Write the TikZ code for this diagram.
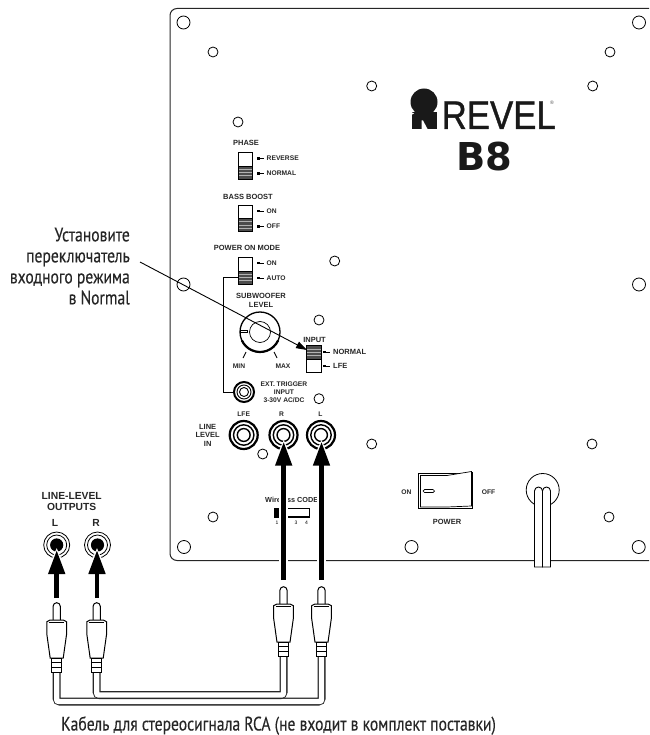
\documentclass[tikz,border=0pt]{standalone}
\usepackage{fontspec}
\setmainfont{Liberation Sans}
\newfontfamily\rufont[FakeStretch=0.80,FakeBold=0.25]{PT Sans}
\newfontfamily\logofont[FakeStretch=0.87,FakeBold=0.9]{Liberation Sans}
\newfontfamily\modelfont{DejaVu Sans}
\usetikzlibrary{arrows.meta}

\tikzset{
    hole/.style={shape=circle,draw=black,fill=white,line width=0.8pt,inner sep=0,minimum size=10pt},
    bighole/.style={hole,minimum size=13pt},
    titlelabel/.style={inner sep=0,align=center,font=\bfseries\fontsize{7.5}{8.5}\selectfont,text=black!85},
    optlabel/.style={inner sep=0,align=center,font=\bfseries\fontsize{6.7}{8}\selectfont,text=black!85},
    swbody/.style={shape=rectangle,draw=black,fill=white,line width=0.8pt,inner sep=0,minimum width=14.5pt,minimum height=26.5pt},
    bigarrow/.style={-{Triangle[width=16pt,length=24pt]},line width=4.6pt,draw=black},
    arrowhalo/.style={-{Triangle[width=22pt,length=29pt]},line width=8.5pt,draw=white,shorten >=-3pt},
    cablerun/.style={line width=8pt,draw=black!85,rounded corners=3pt},
    cablefill/.style={line width=5.4pt,draw=white,rounded corners=2pt},
    captext/.style={inner sep=0,font=\rufont\fontsize{19.5}{21}\selectfont,text=black!85}
}

% dark half of a slide switch, #1 x left, #2 y top
\newcommand{\swdark}[2]{
    \fill[black!70] (#1,#2) rectangle ++(14.5,13.2);
    \draw[black!30,line width=0.5pt] (#1,#2+3.2) -- ++(14.5,0) (#1,#2+6.4) -- ++(14.5,0) (#1,#2+9.6) -- ++(14.5,0);
    \draw[line width=0.8pt] (#1,#2) rectangle ++(14.5,13.2);
}
% tick and text beside a slide switch
\newcommand{\swlabel}[5][optlabel]{
    \fill (#3,#4-1.3) rectangle ++(3,2.6);
    \draw[line width=0.7pt] (#3+3,#4) -- ++(4,0);
    \node[#1,anchor=west] (#2) at (#3+10,#4) {#5};
}
% panel socket with rings
\newcommand{\bigjack}[3]{
    \node[shape=circle,draw=black,line width=2.2pt,inner sep=0,minimum size=28pt] (#1) at (#2,#3) {};
    \draw[line width=1.4pt] (#1) circle (10.2pt);
    \draw[line width=1.4pt] (#1) circle (6.4pt);
}
% socket on the source side, black centre
\newcommand{\outjack}[3]{
    \node[shape=circle,draw=black,line width=0.8pt,inner sep=0,minimum size=26pt] (#1) at (#2,#3) {};
    \draw[line width=0.8pt] (#1) circle (10pt);
    \fill (#1) circle (6.6pt);
}
% RCA plug, #1 x centre, #2 y of pin top
\newcommand{\rcaplug}[2]{
    \draw[line width=1pt,fill=white] (#1-3.6,#2+17.5) -- (#1-3.6,#2+3.6) arc (180:360:3.6) -- (#1+3.6,#2+17.5);
    \draw[line width=1pt,fill=white] (#1-9.8,#2+19) -- (#1-9.8,#2+32) -- (#1-6.5,#2+55.5) -- (#1+6.5,#2+55.5) -- (#1+9.8,#2+32) -- (#1+9.8,#2+19) -- (#1+7,#2+17.5) -- (#1-7,#2+17.5) -- cycle;
    \draw[line width=0.8pt] (#1-7.5,#2+19.5) -- (#1+7.5,#2+19.5);
    \draw[line width=1pt,fill=white] (#1-5,#2+55.5) rectangle (#1+5,#2+70);
    \draw[line width=1.5pt] (#1-5,#2+60) -- (#1+5,#2+60) (#1-5,#2+65) -- (#1+5,#2+65);
}

\begin{document}
\begin{tikzpicture}[x=1pt,y=-1pt]

    \useasboundingbox (0,0) rectangle (649,735);

    % panel
    \draw[line width=1pt,black!85,rounded corners=7pt] (649,8.5) -- (170,8.5) -- (170,560.5) -- (649,560.5);

    % screw holes
    \node[bighole] (h1) at (183.5,22.5) {};
    \node[bighole] (h2) at (639,22.5) {};
    \node[hole] (h3) at (213,52) {};
    \node[hole] (h4) at (610,52) {};
    \node[hole] (h5) at (371.7,86) {};
    \node[hole] (h6) at (592.7,86) {};
    \node[hole] (h7) at (238,122) {};
    \node[hole] (h8) at (334.7,261) {};
    \node[bighole] (h9) at (183.5,284.5) {};
    \node[bighole] (h10) at (639,284.5) {};
    \node[hole] (h11) at (319,320) {};
    \node[hole] (h12) at (319,398.7) {};
    \node[hole] (h13) at (262.7,454) {};
    \node[hole] (h14) at (371.7,444) {};
    \node[hole] (h15) at (592,444) {};
    \node[hole] (h16) at (609,517) {};
    \node[hole] (h17) at (213,517) {};
    \node[bighole] (h18) at (184,547) {};
    \node[bighole] (h19) at (411.5,547) {};
    \node[bighole] (h20) at (638.7,547) {};

    % logo
    \fill[black!90] (424,102) circle (13.5pt);
    \fill[black!90] (412,112) rectangle (437,129);
    \fill[white] (421.7,129.5) -- (427.8,129.5) -- (423,120.5) -- (421.7,120.5) -- cycle;
    \fill[white] (411,112) -- (414,113.5) -- (411,115) -- cycle;
    \node[inner sep=0,anchor=base west,font=\logofont\fontsize{40}{40}\selectfont,text=black!90] (revel) at (441.5,129) {REVEL};
    \node[inner sep=0,font=\fontsize{5}{5}\selectfont,text=black!70] (regmark) at (552,103) {®};
    \node[inner sep=0,font=\modelfont\bfseries\fontsize{38.4}{40}\selectfont,text=black!90] (model) at (484,157) {B8};

    % phase
    \node[titlelabel] (phase) at (246,142.7) {PHASE};
    \node[swbody] (phasesw) at (245.5,166) {};
    \swdark{238.2}{166}
    \swlabel{reverse}{256.5}{158.5}{REVERSE}
    \swlabel{normal}{256.5}{173.5}{NORMAL}

    % bass boost
    \node[titlelabel] (bass) at (248,197) {BASS BOOST};
    \node[swbody] (basssw) at (245.5,218.5) {};
    \swdark{238.2}{218.5}
    \swlabel{bon}{256.5}{211}{ON}
    \swlabel{boff}{256.5}{226.5}{OFF}

    % power on mode
    \node[titlelabel] (mode) at (247,247.7) {POWER ON MODE};
    \node[swbody] (modesw) at (245.5,271) {};
    \swdark{238.2}{271}
    \swlabel{mon}{256.5}{263}{ON}
    \swlabel{mauto}{256.5}{278}{AUTO}

    % level knob
    \node[titlelabel] (level) at (261,300.5) {SUBWOOFER\\LEVEL};
    \node[shape=circle,draw=black,line width=1.3pt,fill=white,inner sep=0,minimum size=40pt] (knob) at (260,332) {};
    \draw[line width=2.2pt] (knob.center) ++(25:20) arc (25:155:20);
    \draw[line width=0.7pt] (knob) circle (10.5pt);
    \draw[line width=0.7pt,fill=white] (240,330.5) rectangle (247.5,332.5);
    \draw[line width=0.9pt] (246,352) -- (243,358);
    \draw[line width=0.9pt] (274,352) -- (277,358);
    \node[optlabel] (min) at (239,366) {MIN};
    \node[optlabel] (max) at (283,366) {MAX};

    % input
    \node[titlelabel] (input) at (314.5,340) {INPUT};
    \node[swbody] (inputsw) at (314,359) {};
    \swdark{306.7}{345.7}
    \swlabel[titlelabel]{inormal}{323}{352}{NORMAL}
    \swlabel[titlelabel]{ilfe}{323}{366}{LFE}

    % trigger
    \node[shape=circle,draw=black,line width=2pt,inner sep=0,minimum size=20pt] (trigger) at (244,392) {};
    \draw[line width=0.9pt] (trigger) circle (7pt);
    \draw[line width=0.9pt] (trigger) circle (4.5pt);
    \node[optlabel] (trigtext) at (284,392.5) {EXT. TRIGGER\\INPUT\\3-30V AC/DC};
    \coordinate (modetap) at (238.2,277);
    \draw[line width=0.9pt] (modetap) -- (223,277) -- (223,392) -- (trigger);

    % line level sockets
    \node[titlelabel] (linein) at (207.7,435) {LINE\\LEVEL\\IN};
    \bigjack{jacklfe}{243.7}{435}
    \bigjack{jackr}{283.5}{435}
    \bigjack{jackl}{321}{435}
    \node[optlabel] (lfe) at (243.7,414) {LFE};
    \node[optlabel] (rr) at (281.5,414) {R};
    \node[optlabel] (ll) at (320.5,414) {L};

    % wireless code switch
    \node[inner sep=0,anchor=west,font=\bfseries\fontsize{7.3}{8}\selectfont,text=black!85] (wireless) at (265,500) {Wireless CODE};
    \draw[line width=1.1pt] (274.5,508.5) rectangle (309.3,517);
    \fill (274,508) rectangle (280.5,517.5);
    \node[inner sep=0,font=\fontsize{5}{5}\selectfont] (n1) at (277,522.7) {1};
    \node[inner sep=0,font=\fontsize{5}{5}\selectfont] (n3) at (296,522.7) {3};
    \node[inner sep=0,font=\fontsize{5}{5}\selectfont] (n4) at (306.5,522.7) {4};

    % power switch
    \node[shape=rectangle,draw=black,line width=1.3pt,inner sep=0,minimum width=54pt,minimum height=35pt] (power) at (445.8,491) {};
    \draw[line width=0.7pt,fill=white] (420.5,475.5) -- (447,475.5) -- (471.5,471.5) -- (471.5,506) -- (447,507) -- (420.5,507) -- cycle;
    \draw[line width=1.2pt] (472.5,472) -- (472.5,509);
    \draw[line width=0.7pt,fill=white,rounded corners=1.5pt] (423,489.5) rectangle (434.5,492.5);
    \node[optlabel] (pon) at (406.5,492) {ON};
    \node[optlabel] (poff) at (488.5,492) {OFF};
    \node[titlelabel] (powertext) at (447,522) {POWER};

    % power cord
    \node[shape=circle,draw=black,line width=0.8pt,fill=white,inner sep=0,minimum size=33pt] (gland) at (542.7,490) {};
    \draw[line width=0.9pt,fill=white] (534.5,567) -- (534.5,491) arc (180:360:4) -- (542.5,567) -- cycle;
    \draw[line width=0.9pt,fill=white] (542.5,567) -- (542.5,491) arc (180:360:4) -- (550.5,567) -- cycle;

    % source side
    \node[inner sep=0,align=center,font=\bfseries\fontsize{10.3}{11.5}\selectfont,text=black!85] (outputs) at (71.7,501.5) {LINE-LEVEL\\OUTPUTS};
    \node[inner sep=0,font=\bfseries\fontsize{10.3}{11}\selectfont,text=black!85] (outl) at (55,523) {L};
    \node[inner sep=0,font=\bfseries\fontsize{10.3}{11}\selectfont,text=black!85] (outr) at (96,523) {R};
    \outjack{srcl}{56.7}{545}
    \outjack{srcr}{97.5}{545}

    % cables
    \draw[cablerun] (56.7,670) -- (56.7,701.5) -- (321.5,701.5) -- (321.5,650);
    \draw[cablefill] (56.7,670) -- (56.7,701.5) -- (321.5,701.5) -- (321.5,650);
    \draw[cablerun] (96.7,670) -- (96.7,695) -- (283.5,695) -- (283.5,650);
    \draw[cablefill] (96.7,670) -- (96.7,695) -- (283.5,695) -- (283.5,650);

    % plugs
    \rcaplug{56.7}{602.7}
    \rcaplug{96.7}{602.7}
    \rcaplug{283.5}{586.7}
    \rcaplug{321.5}{586.7}

    % arrows
    \coordinate (plugtl) at (56.7,598);
    \coordinate (plugtr) at (97,598);
    \coordinate (plugtrr) at (283.7,580);
    \coordinate (plugtll) at (321.5,580);
    \coordinate (tipsl) at (56.7,550);
    \coordinate (tipsr) at (97,550);
    \coordinate (tipr) at (283.7,441.7);
    \coordinate (tipl) at (321.5,441.7);
    \draw[arrowhalo] (plugtrr) -- (tipr);
    \draw[arrowhalo] (plugtll) -- (tipl);
    \draw[arrowhalo] (plugtl) -- (tipsl);
    \draw[arrowhalo] (plugtr) -- (tipsr);
    \draw[bigarrow] (plugtrr) -- (tipr);
    \draw[bigarrow] (plugtll) -- (tipl);
    \draw[bigarrow] (plugtl) -- (tipsl);
    \draw[bigarrow] (plugtr) -- (tipsr);

    % callout
    \node[captext,anchor=north east,align=right] (callout) at (130,227.5) {Установите\\переключатель\\входного режима\\в Normal};
    \coordinate (calloutend) at (140,262);
    \coordinate (inputtip) at (307,350);
    \draw[-{Triangle[width=7pt,length=11pt]},line width=0.9pt] (calloutend) -- (inputtip);

    % caption
    \node[captext,anchor=base] (caption) at (278.5,730.5) {Кабель для стереосигнала RCA (не входит в комплект поставки)};

\end{tikzpicture}
\end{document}
